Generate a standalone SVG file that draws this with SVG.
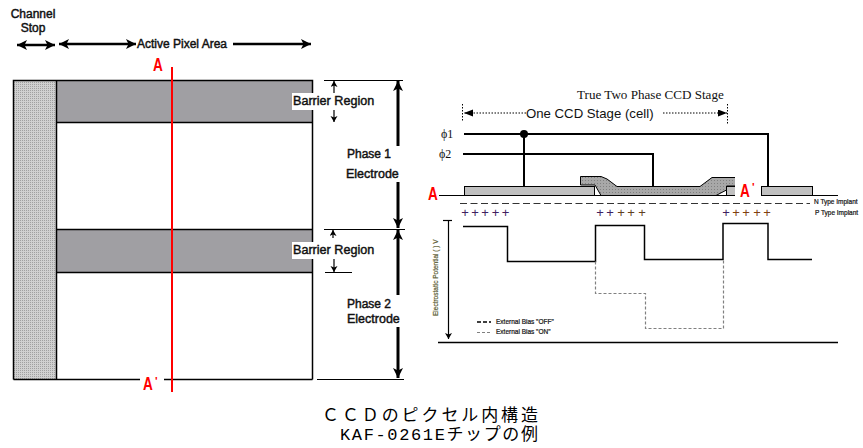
<svg xmlns="http://www.w3.org/2000/svg" width="863" height="448" viewBox="0 0 863 448">
<style>
text{font-family:"Liberation Sans",Arial,sans-serif;fill:#111}
.lbl{font-size:12px;stroke:#111;stroke-width:.45}
.red{font-family:"Liberation Sans",sans-serif;font-weight:bold;font-size:17px;fill:#f00}
.ln{fill:none;stroke:#000;stroke-width:1.5}
.thin{fill:none;stroke:#000;stroke-width:1.2}
.big{fill:none;stroke:#000;stroke-width:3;marker-end:url(#bigHead)}
.small{fill:none;stroke:#000;stroke-width:1.2;marker-end:url(#smallHead)}
.gray{fill:none;stroke:#808080;stroke-width:1.2;stroke-dasharray:3 2}
.cap{font-family:"Liberation Mono","Noto Sans CJK JP",sans-serif;font-size:17px;fill:#000}
.tiny{font-size:6.5px;stroke:#111;stroke-width:.2}
.plus{font-size:13px;text-anchor:middle}
</style>
<defs>
<marker id="bigHead" markerUnits="userSpaceOnUse" markerWidth="12" markerHeight="12" refX="10" refY="5" orient="auto-start-reverse"><path d="M0 0L10 5L0 10L2.500 5Z" fill="#000"/></marker>
<marker id="smallHead" markerUnits="userSpaceOnUse" markerWidth="8" markerHeight="8" refX="6" refY="3.500" orient="auto-start-reverse"><path d="M0 0L6 3.500L0 7L1.500 3.500Z" fill="#000"/></marker>
<marker id="dotHead" markerUnits="userSpaceOnUse" markerWidth="10" markerHeight="8" refX="9" refY="3.500" orient="auto-start-reverse"><path d="M0 0L9 3.500L0 7Z" fill="#000"/></marker>
<pattern id="dots" width="2" height="2" patternUnits="userSpaceOnUse"><rect width="2" height="2" fill="#d0d0d0"/><rect width="1" height="1" fill="#a0a0a0"/></pattern>
<pattern id="gdots" width="3" height="3" patternUnits="userSpaceOnUse"><rect width="3" height="3" fill="#a8a8a8"/><rect width="1" height="1" fill="#808080"/></pattern>
</defs>
<rect width="863" height="448" fill="#fff"/>

<g id="pixel">
<rect x="13.500" y="80.500" width="299" height="299" fill="#fff"/>
<rect x="13.500" y="80.500" width="43" height="299" fill="url(#dots)"/>
<rect x="56.500" y="80.500" width="256" height="42" fill="#a09fa3"/>
<rect x="56.500" y="229.500" width="256" height="43" fill="#a09fa3"/>
<path class="ln" d="M13.500 379.500V80.500H312.500V379.500M56.500 80.500V379.500M56.500 122.500H312.500M56.500 229.500H312.500M56.500 272.500H312.500"/>
<path class="ln" d="M13.500 379.500H140M164 379.500H312.500"/>
<rect x="140" y="372" width="24" height="16" fill="#fff"/>
<path d="M172 67V392" stroke="#f00" stroke-width="2" fill="none"/>
<text class="red" transform="translate(153 71) scale(.8 1.050)">A</text>
<text class="red" transform="translate(143 390) scale(.8 1.050)">A</text>
<text class="red" x="155" y="385" style="font-size:11px">'</text>
</g>

<g id="connectors">
<path class="big" style="stroke-width:2.500" d="M17 45H55" marker-start="url(#bigHead)"/>
<path class="big" style="stroke-width:2.500" d="M59 44H136" marker-start="url(#bigHead)" marker-end="none"/>
<path class="big" style="stroke-width:2.500" d="M233 44H311"/>
<path class="thin" d="M324 80.500H403M324 229.500H405M325 272.500H352M317 379.500H404"/>
<path class="small" d="M334 94V81"/>
<path class="small" d="M334 110V122"/>
<path class="small" d="M333 238V230"/>
<path class="small" d="M334 259V272"/>
<path class="big" d="M398 146V81"/>
<path class="big" d="M398 182V228"/>
<path class="big" d="M398 295V230"/>
<path class="big" d="M398 327V378"/>
<path d="M464 134H768V186M463 154H653V186M524 134V186" fill="none" stroke="#000" stroke-width="2"/>
<circle cx="524" cy="134" r="4" fill="#000"/>
<path d="M462.500 104V122M727.500 104V125" fill="none" stroke="#000" stroke-dasharray="1.500 1.500"/>
<path d="M526 113H464" fill="none" stroke="#000" stroke-dasharray="1.500 1.500" marker-end="url(#dotHead)"/>
<path d="M663 113H727" fill="none" stroke="#000" stroke-dasharray="1.500 1.500" marker-end="url(#dotHead)"/>
</g>

<g id="labels-left">
<text class="lbl" x="33" y="18" text-anchor="middle">Channel</text>
<text class="lbl" x="33" y="32" text-anchor="middle">Stop</text>
<text class="lbl" x="137" y="48">Active Pixel Area</text>
<rect x="292" y="93" width="84" height="17" fill="#fff"/>
<text class="lbl" x="293" y="105" style="font-size:12.600px">Barrier Region</text>
<rect x="292" y="242" width="84" height="17" fill="#fff"/>
<text class="lbl" x="293" y="254" style="font-size:12.600px">Barrier Region</text>
<text class="lbl" x="347" y="158">Phase 1</text>
<text class="lbl" x="346" y="178" style="font-size:12.500px">Electrode</text>
<text class="lbl" x="347" y="308">Phase 2</text>
<text class="lbl" x="347" y="323" style="font-size:12.500px">Electrode</text>
</g>

<g id="stage">
<rect x="464.500" y="186.500" width="130" height="9" fill="#c0c0c0" stroke="#000"/>
<rect x="726.500" y="186.500" width="14" height="9" fill="#c0c0c0" stroke="#000"/>
<rect x="761.500" y="186.500" width="51" height="9" fill="#c0c0c0" stroke="#000"/>
<path d="M580.500 176.500H601L607 179L617 186.500H700L712 177.500H736V186H726.500V190L716 195.500H601L595 185H580.500Z" fill="url(#gdots)" stroke="#000"/>
<path class="thin" d="M439 195.500H838"/>
<rect x="735" y="176" width="26" height="23" fill="#fff"/>
<path d="M761.500 186.500V195.500" stroke="#000" fill="none"/>
<text class="red" transform="translate(428 200) scale(.8 1.050)">A</text>
<text class="red" transform="translate(740 197) scale(.8 1.050)">A</text>
<text class="red" x="752" y="191" style="font-size:11px">'</text>
<path d="M460 203.500H810" fill="none" stroke="#333" stroke-dasharray="7 3.500"/>
<text class="tiny" x="814" y="204">N Type Implant</text>
<text class="tiny" x="815" y="215">P Type Implant</text>
<g class="plus">
<text class="plus" x="465" y="217" style="fill:#402060">+</text><text class="plus" x="475" y="217" style="fill:#402060">+</text><text class="plus" x="485" y="217" style="fill:#402060">+</text><text class="plus" x="495.500" y="217" style="fill:#402060">+</text><text class="plus" x="505.500" y="217" style="fill:#402060">+</text>
<text class="plus" x="600" y="217" style="fill:#402060">+</text><text class="plus" x="610" y="217" style="fill:#402060">+</text><text class="plus" x="621" y="217" style="fill:#604020">+</text><text class="plus" x="631" y="217" style="fill:#604020">+</text><text class="plus" x="642" y="217" style="fill:#604020">+</text>
<text class="plus" x="726" y="217" style="fill:#402060">+</text><text class="plus" x="736" y="217" style="fill:#804010">+</text><text class="plus" x="746" y="217" style="fill:#804010">+</text><text class="plus" x="757" y="217" style="fill:#804010">+</text><text class="plus" x="767" y="217" style="fill:#804010">+</text>
</g>
<text x="577" y="99" style="font-family:'Liberation Serif',serif;font-size:13.100px">True Two Phase CCD Stage</text>
<text x="526" y="118" style="font-size:13.200px">One CCD Stage (cell)</text>
<text x="441" y="138" style="font-family:'Liberation Serif',serif;font-size:12px">ϕ1</text>
<text x="439" y="158" style="font-family:'Liberation Serif',serif;font-size:12px">ϕ2</text>
</g>

<g id="potential">
<path class="ln" d="M463 226.500H507.500V261.500H595.500V225.500H644.500V259.500H723V223.500H768V259.500H812"/>
<path class="gray" d="M595.500 261.500V293.500H645.500V328.500H723.500V260"/>
<path class="thin" d="M443 220.500H452"/>
<path class="small" d="M448.500 220V339"/>
<path class="ln" d="M438 342.500H838"/>
<text class="tiny" transform="translate(438 316) rotate(-90)" style="fill:#5a5a30;stroke:#5a5a30">Electrostatic Potential (   ) V</text>
<path class="ln" d="M477 322H491" stroke-dasharray="4 2"/>
<text class="tiny" x="496" y="324">External Bias "OFF"</text>
<path class="gray" d="M477 332.500H491"/>
<text class="tiny" x="496" y="334">External Bias "ON"</text>
</g>

<g id="caption">
<text class="cap" x="322" y="420.500" textLength="216">ＣＣＤのピクセル内構造</text>
<text class="cap" x="340" y="440" textLength="198">KAF-0261Eチップの例</text>
</g>
</svg>
